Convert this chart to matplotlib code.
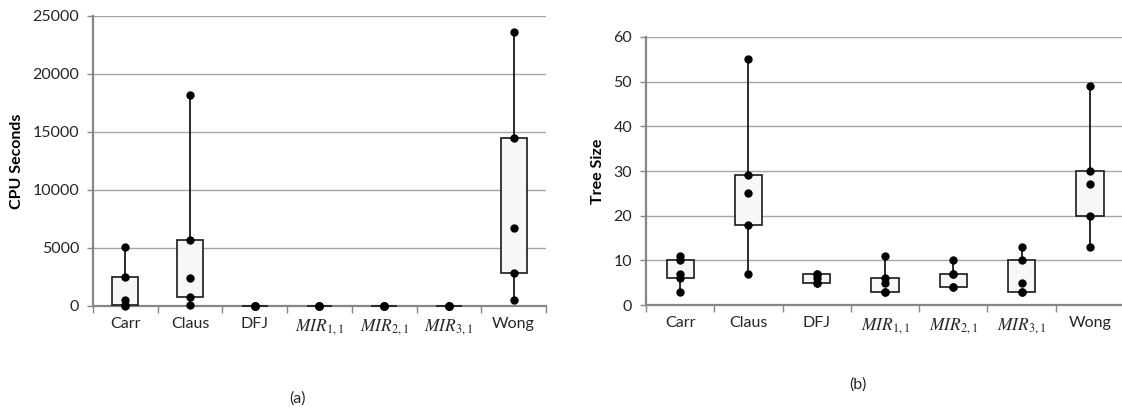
import matplotlib
matplotlib.use("Agg")
import matplotlib.pyplot as plt
import numpy as np

plt.rcParams["font.family"] = ["Lato", "DejaVu Sans"]
plt.rcParams["mathtext.fontset"] = "stix"

CATEGORIES = ["Carr", "Claus", "DFJ", "$MIR_{1,1}$", "$MIR_{2,1}$", "$MIR_{3,1}$", "Wong"]

# five-number summaries per category: min, q1, median, q3, max
CPU_MIN = [10, 90, 2, 2, 2, 2, 550]
CPU_Q1 = [120, 800, 5, 5, 5, 5, 2870]
CPU_MED = [550, 2400, 8, 8, 8, 8, 6720]
CPU_Q3 = [2500, 5720, 12, 12, 12, 12, 14500]
CPU_MAX = [5050, 18170, 20, 20, 20, 20, 23620]

TREE_MIN = [3, 7, 5, 3, 4, 3, 13]
TREE_Q1 = [6, 18, 5, 3, 4, 3, 20]
TREE_MED = [7, 25, 6, 5, 7, 5, 27]
TREE_Q3 = [10, 29, 7, 6, 7, 10, 30]
TREE_MAX = [11, 55, 7, 11, 10, 13, 49]

AXIS_GREY = "#868686"
GRID_GREY = "#a6a6a6"
TEXT = "#262626"
FS = 11.5


def draw_panel(ax, mins, q1s, meds, q3s, maxs, ymax, ystep, ylabel):
    x = np.arange(len(CATEGORIES))
    for xi, lo, a, m, b, hi in zip(x, mins, q1s, meds, q3s, maxs):
        ax.plot([xi, xi], [lo, hi], color="#1a1a1a", lw=1.3, zorder=3, clip_on=False)
        ax.bar(xi, b - a, bottom=a, width=0.4, color="#f7f7f7",
               edgecolor="#1a1a1a", linewidth=1.2, zorder=4, clip_on=False)
        ax.plot([xi] * 5, [lo, a, m, b, hi], "o", color="black",
                markersize=5, zorder=5, clip_on=False)

    ax.set_xlim(-0.5, len(CATEGORIES) - 0.5)
    ax.set_ylim(0, ymax)
    ax.set_yticks(np.arange(0, ymax + 1, ystep))
    ax.set_xticks(x)
    ax.set_xticklabels(CATEGORIES, fontsize=FS, color=TEXT)
    for lbl in ax.get_xticklabels():
        if lbl.get_text().startswith("$"):
            lbl.set_fontsize(FS + 1)
    ax.set_xticks(np.arange(-0.5, len(CATEGORIES)), minor=True)
    ax.tick_params(axis="x", which="major", length=0, pad=8)
    ax.tick_params(axis="x", which="minor", length=5, color=AXIS_GREY, width=1)
    ax.tick_params(axis="y", length=4, color=AXIS_GREY, width=1,
                   labelsize=FS, labelcolor=TEXT, pad=6)
    ax.yaxis.grid(True, color=GRID_GREY, lw=1)
    ax.set_axisbelow(True)
    for s in ("top", "right"):
        ax.spines[s].set_visible(False)
    for s in ("left", "bottom"):
        ax.spines[s].set_color(AXIS_GREY)
        ax.spines[s].set_linewidth(1.6)
        ax.spines[s].set_zorder(2.5)
    ax.set_ylabel(ylabel, fontsize=FS, fontweight="bold", color="black", labelpad=6)


fig = plt.figure(figsize=(11.22, 4.12), dpi=100)
ax1 = fig.add_axes([0.0829, 0.2573, 0.4037, 0.7039])
ax2 = fig.add_axes([0.5758, 0.2597, 0.426, 0.6505])

draw_panel(ax1, CPU_MIN, CPU_Q1, CPU_MED, CPU_Q3, CPU_MAX, 25000, 5000, "CPU Seconds")
draw_panel(ax2, TREE_MIN, TREE_Q1, TREE_MED, TREE_Q3, TREE_MAX, 60, 10, "Tree Size")

fig.text(298 / 1122, 1 - 399 / 412, "(a)", ha="center", va="center", fontsize=FS, color=TEXT)
fig.text(858 / 1122, 1 - 385 / 412, "(b)", ha="center", va="center", fontsize=FS, color=TEXT)

fig.savefig("out.png", dpi=100)
